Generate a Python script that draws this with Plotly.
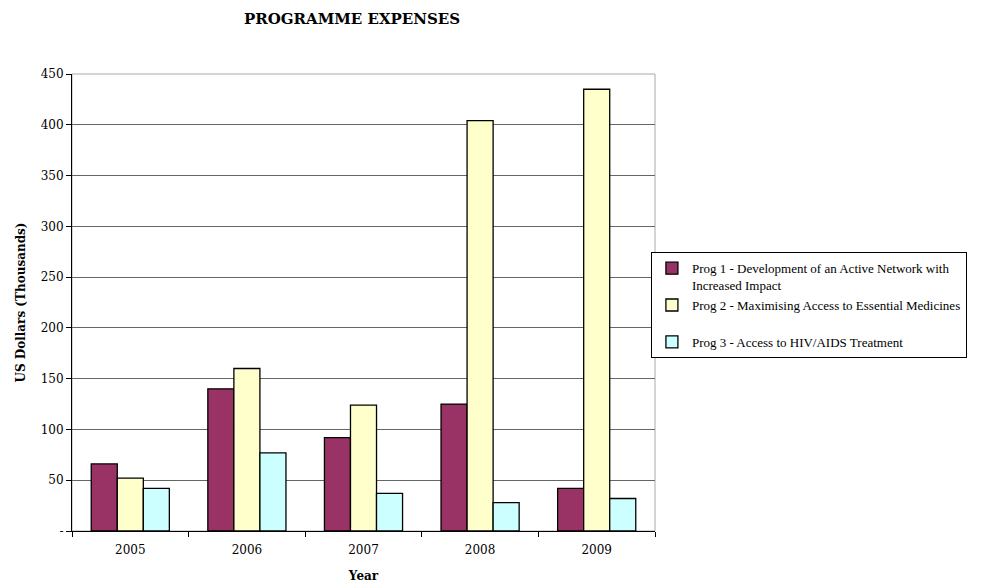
import plotly.graph_objects as go

years = ["2005", "2006", "2007", "2008", "2009"]
prog1 = [66, 140, 92, 125, 42]
prog2 = [52, 160, 124, 404, 435]
prog3 = [42, 77, 37, 28, 32]
names = [
    "Prog 1 - Development of an Active Network with<br>Increased Impact",
    "Prog 2 - Maximising Access to Essential Medicines<br> ",
    "Prog 3 - Access to HIV/AIDS Treatment",
]
colors = ["#993366", "#FFFFCC", "#CCFFFF"]
ytick_vals = [0, 50, 100, 150, 200, 250, 300, 350, 400, 450]
ytick_text = ["-", "50", "100", "150", "200", "250", "300", "350", "400", "450"]

font_family = "DejaVu Serif, Liberation Serif, serif"
legend_family = "Liberation Serif, DejaVu Serif, serif"

fig = go.Figure()
for name, vals, col in zip(names, [prog1, prog2, prog3], colors):
    fig.add_trace(go.Bar(
        x=years, y=vals, name=name,
        marker=dict(color=col, line=dict(color="#000000", width=1.3)),
    ))

fig.update_layout(
    width=987, height=583,
    margin=dict(l=72, r=332, t=74, b=52, autoexpand=False),
    paper_bgcolor="white", plot_bgcolor="white",
    barmode="group", bargap=0.33, bargroupgap=0,
    font=dict(family=font_family, size=12, color="#000000"),
    title=dict(text="<b>PROGRAMME EXPENSES</b>", x=352/987, xanchor="center",
               y=1 - 19/583, yanchor="middle",
               font=dict(family=font_family, size=15, color="#000000")),
    legend=dict(x=0.993, xanchor="left", y=0.61, yanchor="top",
                bordercolor="#000000", borderwidth=1, bgcolor="white",
                font=dict(family=legend_family, size=13, color="#000000"),
                tracegroupgap=0, itemwidth=30, valign="top"),
    showlegend=True,
)

fig.update_xaxes(
    type="category",
    showline=True, linecolor="#000000", linewidth=1,
    ticks="outside", tickson="boundaries", ticklen=5, tickcolor="#000000",
    showgrid=False,
    ticklabelstandoff=8,
    title=dict(text="<b>Year</b>", font=dict(family=font_family, size=12), standoff=16),
    tickfont=dict(family=font_family, size=12),
)
fig.update_yaxes(
    range=[0, 450],
    tickvals=ytick_vals, ticktext=ytick_text,
    showline=True, linecolor="#000000", linewidth=1,
    ticks="outside", ticklen=5, tickcolor="#000000",
    showgrid=True, gridcolor="#666666", gridwidth=1,
    zeroline=False,
    title=dict(text="<b>US Dollars (Thousands)</b>", font=dict(family=font_family, size=12), standoff=12),
    tickfont=dict(family=font_family, size=12),
)

fig.add_shape(type="rect", xref="paper", yref="paper", x0=0, x1=1, y0=0, y1=1,
              line=dict(color="#AAAAAA", width=1), layer="below")

fig.write_html("out.html")
